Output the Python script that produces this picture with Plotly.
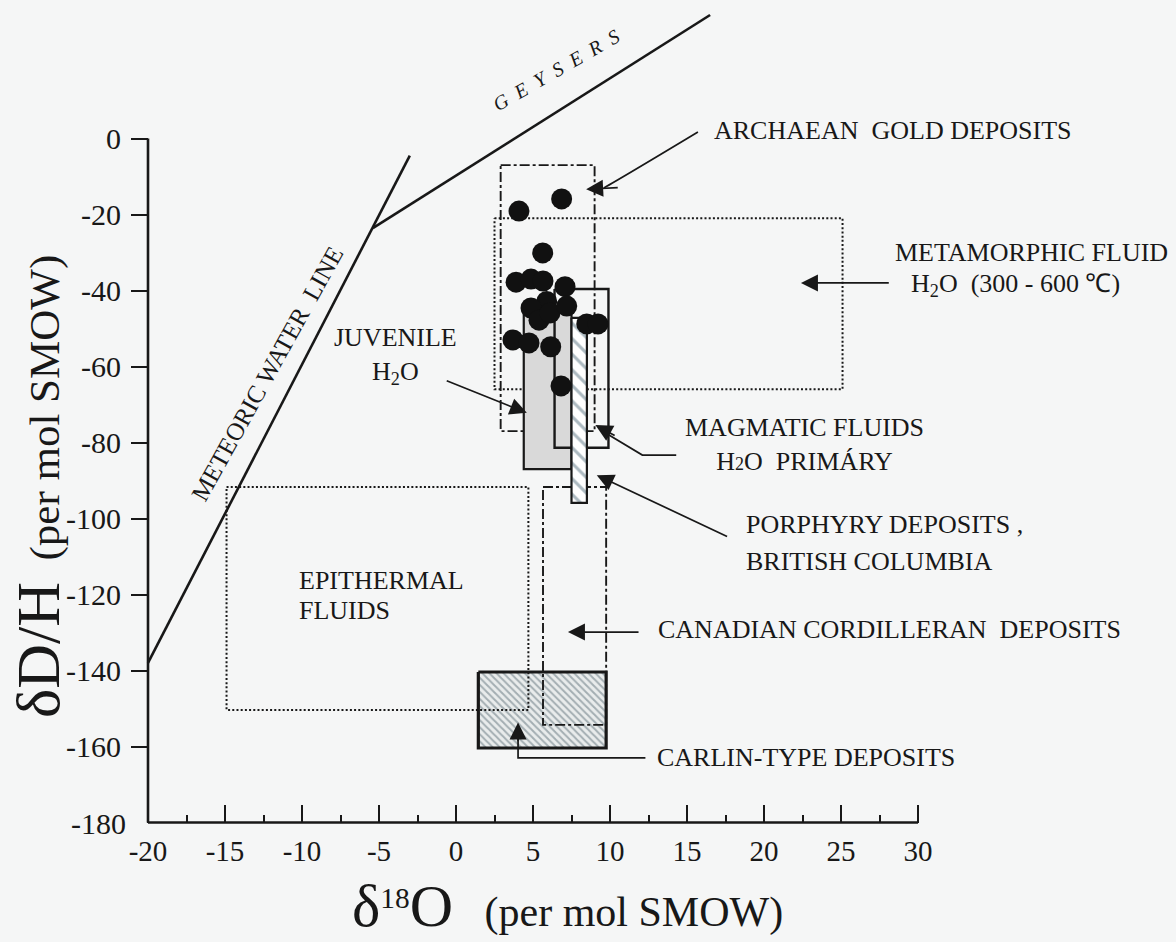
import plotly.graph_objects as go

# ---------------- data ----------------
x_labels = [-20, -15, -10, -5, 0, 5, 10, 15, 20, 25, 30]
x_minor = [-17.5, -12.5, -7.5, -2.5, 2.5, 7.5, 12.5, 17.5, 22.5, 27.5]
y_ticks = [0, -20, -40, -60, -80, -100, -120, -140, -160]

# meteoric water line and the Geysers oxygen shift
mwl_d18o = [-20.0, -5.4, -3.0]
mwl_dD = [-138.0, -23.6, -4.5]
geysers_d18o = [-5.4, 16.5]
geysers_dD = [-23.6, 32.5]

# fluid / deposit fields: (d18O min, d18O max, dD top, dD bottom)
archaean_box = (2.9, 9.0, -7.0, -77.0)
metamorphic_box = (2.5, 25.1, -21.0, -66.0)
juvenile_box = (4.4, 7.5, -44.6, -87.0)
magmatic_box = (6.4, 9.9, -39.6, -81.4)
porphyry_box = (7.5, 8.5, -47.2, -95.9)
epithermal_box = (-14.9, 4.7, -91.7, -150.4)
cordilleran_box = (5.65, 9.75, -91.7, -154.3)
carlin_box = (1.45, 9.75, -140.4, -160.4)

# Archaean gold deposit samples
gold_d18o = [4.09, 6.86, 5.63, 3.90, 4.87, 5.65, 7.08, 5.89, 4.87, 5.39,
             6.10, 7.19, 8.49, 9.22, 3.70, 4.74, 6.15, 6.82]
gold_dD = [-19.1, -15.9, -30.1, -37.8, -37.0, -37.5, -39.0, -42.9, -44.6, -47.8,
           -45.9, -44.1, -48.8, -48.8, -53.0, -53.8, -54.8, -65.1]

# ---------------- style ----------------
INK = "#181818"
SERIF = "Liberation Serif"
BG = "#f5f6f6"
DOT = "2px,2.2px"
DASHDOT = "10px,3px,3px,3px"

# pixel geometry of the axes inside a full-page plot area
W, H = 1176, 942
X0_PX, X_SCALE = 456.0, 15.4      # pixel of d18O = 0, pixels per unit
Y0_PX, Y_SCALE = 138.5, 3.80      # pixel of dD = 0, pixels per unit
x_range = [-X0_PX / X_SCALE, (W - X0_PX) / X_SCALE]
y_range = [-(H - Y0_PX) / Y_SCALE, Y0_PX / Y_SCALE]


def box_path(b):
    x0, x1, y0, y1 = b
    return [x0, x1, x1, x0, x0], [y0, y0, y1, y1, y0]


fig = go.Figure()


def add_box(b, dash=None, width=2.0, fill=None, pattern=None, color=INK):
    xs, ys = box_path(b)
    kw = {}
    if fill is not None or pattern is not None:
        kw["fill"] = "toself"
        kw["fillcolor"] = fill if fill is not None else "rgba(0,0,0,0)"
    if pattern is not None:
        kw["fillpattern"] = pattern
    fig.add_trace(go.Scatter(x=xs, y=ys, mode="lines",
                             line=dict(color=color, width=width, dash=dash),
                             hoverinfo="skip", showlegend=False, **kw))


# Carlin-type field (hatched), under the dotted outlines
add_box(carlin_box, width=3.2, fill="#e6e9ea",
        pattern=dict(shape="\\", fgcolor="#5e6f78", bgcolor="#e9ecec",
                     size=5, solidity=0.4))
add_box(epithermal_box, dash=DOT, width=2.0)
add_box(cordilleran_box, dash=DASHDOT, width=1.9)
add_box(metamorphic_box, dash=DOT, width=2.0)
add_box(archaean_box, dash=DASHDOT, width=1.9)
add_box(juvenile_box, width=2.2, fill="#d9d9d9")
add_box(magmatic_box, width=2.4)
add_box(porphyry_box, width=2.2, fill="#ffffff",
        pattern=dict(shape="\\", fgcolor="#5a7482", bgcolor="#ffffff",
                     size=11, solidity=0.28))

# meteoric water line and Geysers shift
fig.add_trace(go.Scatter(x=mwl_d18o, y=mwl_dD, mode="lines",
                         line=dict(color=INK, width=2.6),
                         hoverinfo="skip", showlegend=False))
fig.add_trace(go.Scatter(x=geysers_d18o, y=geysers_dD, mode="lines",
                         line=dict(color=INK, width=2.6),
                         hoverinfo="skip", showlegend=False))

# sample points
fig.add_trace(go.Scatter(x=gold_d18o, y=gold_dD, mode="markers",
                         marker=dict(size=21, color="#111111", line=dict(width=0)),
                         hoverinfo="skip", showlegend=False))

# leader lines with bends
magmatic_leader_x = [14.3, 12.1, 9.5]
magmatic_leader_y = [-83.3, -83.3, -77.0]
carlin_leader_x = [12.3, 4.03, 4.03]
carlin_leader_y = [-163.0, -163.0, -157.0]
for lx, ly in [(magmatic_leader_x, magmatic_leader_y), (carlin_leader_x, carlin_leader_y)]:
    fig.add_trace(go.Scatter(x=lx, y=ly, mode="lines",
                             line=dict(color=INK, width=1.7),
                             hoverinfo="skip", showlegend=False))

shapes = []
# axis lines
shapes.append(dict(type="line", xref="x", yref="y", x0=-20, y0=-180, x1=30, y1=-180,
                   line=dict(color=INK, width=2.6)))
shapes.append(dict(type="line", xref="x", yref="y", x0=-20, y0=-180, x1=-20, y1=0,
                   line=dict(color=INK, width=2.6)))
# curved leader for the Archaean gold deposits
shapes.append(dict(type="path", xref="x", yref="y",
                   path="M 15.71,1.71 Q 10.75,-10.4 9.6,-13.0",
                   line=dict(color=INK, width=1.7)))

annotations = []


def arrow(hx, hy, tx, ty):
    annotations.append(dict(x=hx, y=hy, ax=tx, ay=ty, xref="x", yref="y",
                            axref="x", ayref="y", text="", showarrow=True,
                            arrowhead=2, arrowsize=2.0, arrowwidth=1.7,
                            arrowcolor=INK, standoff=0, startstandoff=0))


arrow(8.45, -13.35, 10.6, -12.9)        # Archaean
arrow(22.4, -38.0, 28.2, -38.0)         # metamorphic
arrow(4.6, -72.2, -0.7, -63.6)          # juvenile
arrow(9.05, -75.4, 10.4, -78.4)         # magmatic
arrow(9.14, -88.6, 17.7, -104.9)        # porphyry
arrow(7.27, -129.9, 11.95, -129.9)      # Cordilleran
arrow(4.03, -153.7, 4.03, -159.0)       # Carlin


def label(text, x, y, size=26, xanchor="left", align="left", angle=0, style="normal"):
    annotations.append(dict(text=text, x=x, y=y, xref="x", yref="y",
                            xanchor=xanchor, yanchor="middle", align=align,
                            showarrow=False, textangle=angle,
                            font=dict(family=SERIF, size=size, color=INK, style=style)))


label("ARCHAEAN  GOLD DEPOSITS", 16.6, 2.0)
label("METAMORPHIC FLUID", 28.4, -30.1)
label("H<sub>2</sub>O  (300 - 600 ℃)", 29.4, -38.6)
label("JUVENILE<br>H<sub>2</sub>O", -3.9, -57.3, xanchor="center", align="center")
label("MAGMATIC FLUIDS<br>H<span style='font-size:18px'>2</span>O  PRIMÁRY",
      22.6, -80.6, xanchor="center", align="center")
label("PORPHYRY DEPOSITS ,", 18.7, -101.7)
label("BRITISH COLUMBIA", 18.7, -111.2)
label("CANADIAN CORDILLERAN  DEPOSITS", 13.0, -129.3)
label("EPITHERMAL", -10.3, -116.2)
label("FLUIDS", -10.3, -124.1)
label("CARLIN-TYPE DEPOSITS", 12.9, -162.8)
label("G\u2002E\u2002Y\u2002S\u2002E\u2002R\u2002S", 6.5, 18.0, size=20,
      xanchor="center", align="center", angle=-30, style="italic")
label("METEORIC WATER  LINE", -12.3, -62.0, size=25,
      xanchor="center", align="center", angle=-61)

# -180 tick label at the axis corner
annotations.append(dict(text="-180", x=-21.3, y=-180.2, xref="x", yref="y",
                        xanchor="right", yanchor="middle", showarrow=False,
                        font=dict(family=SERIF, size=30, color=INK)))

# axis titles
annotations.append(dict(
    text="<span style='font-size:62px'>δD/H</span>  (per mol SMOW)",
    x=38 / W, y=1 - 487 / H, xref="paper", yref="paper",
    xanchor="center", yanchor="middle", showarrow=False, textangle=-90,
    font=dict(family=SERIF, size=43, color=INK)))
annotations.append(dict(
    text="<span style='font-size:60px'>δ</span><sup>18</sup><span style='font-size:60px'>O</span>"
         "   (per mol SMOW)",
    x=567 / W, y=1 - 906 / H, xref="paper", yref="paper",
    xanchor="center", yanchor="middle", showarrow=False,
    font=dict(family=SERIF, size=42, color=INK)))

fig.update_layout(
    width=W, height=H,
    margin=dict(l=0, r=0, t=0, b=0),
    paper_bgcolor=BG, plot_bgcolor=BG,
    showlegend=False,
    shapes=shapes,
    annotations=annotations,
    xaxis=dict(range=x_range, anchor="free",
               position=1 - (Y0_PX + 180 * Y_SCALE) / H,
               showgrid=False, zeroline=False, showline=False,
               tickmode="array", tickvals=x_labels,
               ticktext=[str(v) for v in x_labels],
               ticks="inside", ticklen=18, tickwidth=2.2, tickcolor=INK,
               ticklabelstandoff=8,
               minor=dict(tickvals=x_minor, ticks="inside", ticklen=8,
                          tickwidth=2.2, tickcolor=INK),
               tickfont=dict(family=SERIF, size=29, color=INK)),
    yaxis=dict(range=y_range, anchor="free", position=(X0_PX - 20 * X_SCALE) / W,
               showgrid=False, zeroline=False, showline=False,
               tickmode="array", tickvals=y_ticks,
               ticktext=[str(v) for v in y_ticks],
               ticks="outside", ticklen=17, tickwidth=2.2, tickcolor=INK,
               ticklabelstandoff=4,
               tickfont=dict(family=SERIF, size=30, color=INK)),
)

fig.write_html("out.html")
